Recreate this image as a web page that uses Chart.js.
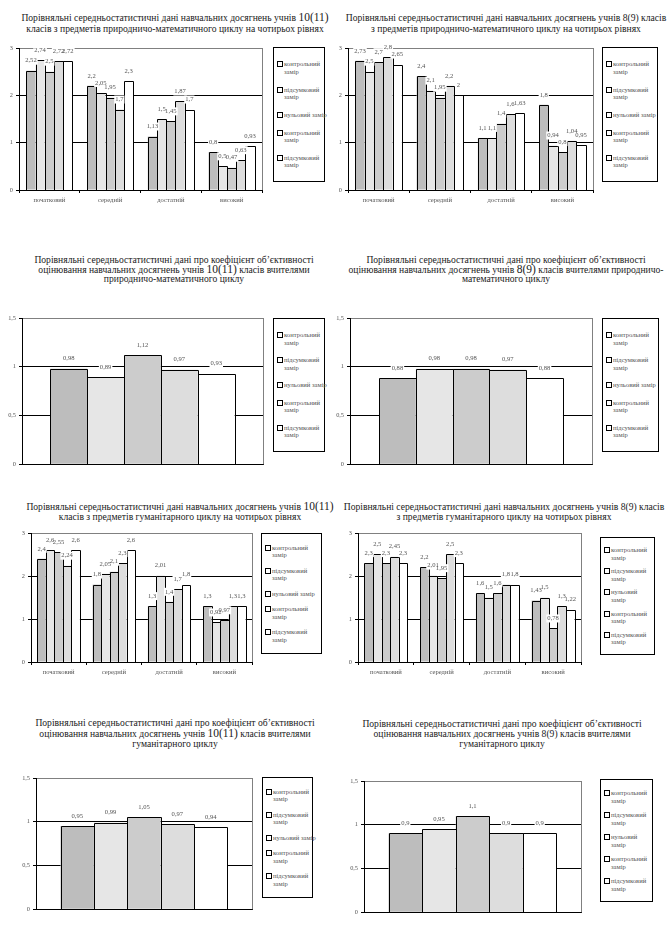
<!DOCTYPE html>
<html>
<head>
<meta charset="utf-8">
<script src="https://cdn.jsdelivr.net/npm/chart.js@4.4.1/dist/chart.umd.min.js"></script>
<style>
  body { margin: 0; background: #fff; }
  #page { position: relative; width: 669px; height: 952px; overflow: hidden; font-family: 'Liberation Serif', 'Times New Roman', serif; }
  .title { position: absolute; width: 400px; text-align: center; font-size: 9.6px; line-height: 10px; color: #1a1a1a; white-space: nowrap; }
  .title .big { font-size: 11.5px; }
  .legend { position: absolute; border: 1px solid #000; box-sizing: border-box; display: flex; flex-direction: column; justify-content: space-evenly; padding: 2px 0; }
  .legend .item { display: flex; align-items: flex-start; font-size: 6.6px; line-height: 7.5px; color: #555; padding-left: 3px; }
  .legend .nw { white-space: nowrap; }
  .legend .sw { width: 4px; height: 4px; border: 1px solid #000; background: #fff; margin-right: 1px; margin-top: 1px; flex: none; }
</style>
</head>
<body>
<div id="page"></div>
<script>
// categories and series names
const levels = ['початковий', 'середній', 'достатній', 'високий'];
const seriesNames = ['контрольний замір', 'підсумковий замір', 'нульовий замір', 'контрольний замір', 'підсумковий замір'];

// four-level charts, one row per series (same order as seriesNames)
const natSenior = [
  [2.52, 2.2, 1.13, 0.8],
  [2.74, 2.05, 1.5, 0.5],
  [2.5, 1.95, 1.45, 0.47],
  [2.72, 1.7, 1.87, 0.63],
  [2.72, 2.3, 1.7, 0.93]
];
const natJunior = [
  [2.73, 2.4, 1.1, 1.8],
  [2.5, 2.1, 1.1, 0.94],
  [2.7, 1.95, 1.4, 0.8],
  [2.8, 2.2, 1.6, 1.04],
  [2.65, 2.0, 1.63, 0.95]
];
const humSenior = [
  [2.4, 1.8, 1.3, 1.3],
  [2.6, 2.05, 2.01, 0.92],
  [2.55, 2.1, 1.4, 0.97],
  [2.24, 2.3, 1.7, 1.3],
  [2.6, 2.6, 1.8, 1.3]
];
const humJunior = [
  [2.3, 2.2, 1.6, 1.43],
  [2.5, 2.01, 1.5, 1.5],
  [2.3, 1.95, 1.6, 0.78],
  [2.45, 2.5, 1.8, 1.3],
  [2.3, 2.3, 1.8, 1.22]
];

// objectivity coefficients, one value per series
const coefNatSenior = [0.98, 0.89, 1.12, 0.97, 0.93];
const coefNatJunior = [0.88, 0.98, 0.98, 0.97, 0.88];
const coefHumSenior = [0.95, 0.99, 1.05, 0.97, 0.94];
const coefHumJunior = [0.9, 0.95, 1.1, 0.9, 0.9];

// y axis ticks
const levelTicks = [0, 1, 2, 3];
const coefTicks = [0, 0.5, 1, 1.5];

const barColors = ['#bdbdbd', '#e6e6e6', '#cccccc', '#dddddd', '#ffffff'];
const page = document.getElementById('page');
const fmt = v => String(v).replace('.', ',');

const charts = [
  { title: ['Порівняльні середньостатистичні дані навчальних досягнень учнів <span class="big">10(11)</span>', 'класів з предметів природничо-математичного циклу на чотирьох рівнях'],
    tx: 175, ty: 12, lh: 11, plot: [19, 48, 262, 190], legend: [273, 47, 52, 135], series: natSenior, ticks: levelTicks, cat: 0.76 },
  { title: ['Порівняльні середньостатистичні дані навчальних досягнень учнів 8(9) класів', 'з предметів природничо-математичного циклу на чотирьох рівнях'],
    tx: 506, ty: 12, lh: 11, plot: [348, 48, 593, 190], legend: [602, 47, 56, 135], series: natJunior, ticks: levelTicks, cat: 0.76 },
  { title: ['Порівняльні середньостатистичні дані про коефіцієнт об’єктивності', 'оцінювання навчальних досягнень учнів <span class="big">10(11)</span> класів вчителями', 'природничо-математичного циклу'],
    tx: 174, ty: 255, lh: 9.7, plot: [22, 318, 263, 467], legend: [273, 318, 52, 134], coef: coefNatSenior, ticks: coefTicks, cat: 0.765 },
  { title: ['Порівняльні середньостатистичні дані про коефіцієнт об’єктивності', 'оцінювання навчальних досягнень учнів <span class="big">8(9)</span> класів вчителями природничо-', 'математичного циклу'],
    tx: 506, ty: 255, lh: 9.7, plot: [350, 318, 592, 467], legend: [602, 318, 57, 134], coef: coefNatJunior, ticks: coefTicks, cat: 0.76 },
  { title: ['Порівняльні середньостатистичні дані навчальних досягнень учнів <span class="big">10(11)</span>', 'класів з предметів гуманітарного циклу на чотирьох рівнях'],
    tx: 180, ty: 501, lh: 10, plot: [31, 533, 252, 662], legend: [261, 533, 61, 121], series: humSenior, ticks: levelTicks, cat: 0.77 },
  { title: ['Порівняльні середньостатистичні дані навчальних досягнень учнів 8(9) класів', 'з предметів гуманітарного циклу на чотирьох рівнях'],
    tx: 504, ty: 502, lh: 10, plot: [358, 533, 581, 662], legend: [600, 537, 55, 118], series: humJunior, ticks: levelTicks, cat: 0.77, wrapAll: true },
  { title: ['Порівняльні середньостатистичні дані про коефіцієнт об’єктивності', 'оцінювання навчальних досягнень учнів <span class="big">10(11)</span> класів вчителями', 'гуманітарного циклу'],
    tx: 175, ty: 718, lh: 10, plot: [36, 778, 252, 912], legend: [262, 777, 51, 121], coef: coefHumSenior, ticks: coefTicks, cat: 0.773 },
  { title: ['Порівняльні середньостатистичні дані про коефіцієнт об’єктивності', 'оцінювання навчальних досягнень учнів 8(9) класів вчителями', 'гуманітарного циклу'],
    tx: 502, ty: 719, lh: 10, plot: [364, 781, 581, 915], legend: [600, 779, 53, 123], coef: coefHumJunior, ticks: coefTicks, cat: 0.774, wrapAll: true }
];

// outlines each bar once (no doubled edges) and writes the value labels
const barDecor = {
  id: 'barDecor',
  beforeDatasetsDraw(chart) {
    const { ctx, chartArea: a } = chart;
    ctx.save();
    ctx.strokeStyle = '#808080';
    ctx.lineWidth = 1;
    ctx.beginPath();
    ctx.moveTo(Math.round(a.right) + 0.5, a.top);
    ctx.lineTo(Math.round(a.right) + 0.5, a.bottom);
    ctx.stroke();
    ctx.restore();
  },
  afterDatasetsDraw(chart) {
    const ctx = chart.ctx;
    ctx.save();
    ctx.strokeStyle = '#000';
    ctx.lineWidth = 1;
    chart.data.datasets.forEach((ds, i) => {
      chart.getDatasetMeta(i).data.forEach(bar => {
        const l = Math.round(bar.x - bar.width / 2) + 0.5;
        const r = Math.round(bar.x + bar.width / 2) + 0.5;
        const t = Math.round(bar.y) + 0.5;
        const b = Math.round(bar.base);
        ctx.beginPath();
        ctx.moveTo(l, b);
        ctx.lineTo(l, t);
        ctx.lineTo(r, t);
        ctx.lineTo(r, b);
        ctx.stroke();
      });
    });
    ctx.font = '6.6px "Liberation Serif"';
    ctx.textAlign = 'center';
    ctx.textBaseline = 'middle';
    const labels = [];
    chart.data.datasets.forEach((ds, i) => {
      chart.getDatasetMeta(i).data.forEach((bar, j) => {
        const txt = fmt(ds.data[j]);
        labels.push({ txt, x: bar.x, y: bar.y - 10, w: ctx.measureText(txt).width });
      });
    });
    // backgrounds first so neighbouring labels never hide each other
    ctx.fillStyle = '#fff';
    labels.forEach(l => ctx.fillRect(l.x - l.w / 2 - 1, l.y - 4, l.w + 2, 8));
    ctx.fillStyle = '#555';
    labels.forEach(l => ctx.fillText(l.txt, l.x, l.y));
    ctx.restore();
  }
};

charts.forEach(cfg => {
  // title
  const t = document.createElement('div');
  t.className = 'title';
  t.style.left = (cfg.tx - 200) + 'px';
  t.style.top = cfg.ty + 'px';
  t.style.lineHeight = cfg.lh + 'px';
  t.innerHTML = cfg.title.join('<br>');
  page.appendChild(t);

  // canvas sized so that the plot area lands on cfg.plot
  const [px0, py0, px1, py1] = cfg.plot;
  const yw = 20, padTop = 8, padRight = 3;
  const isCoef = !!cfg.coef;
  const xh = isCoef ? 4 : 17;
  const w = px1 - px0 + yw + padRight;
  const h = py1 - py0 + padTop + xh;
  const canvas = document.createElement('canvas');
  canvas.width = w;
  canvas.height = h;
  canvas.style.cssText = `position:absolute;left:${px0 - yw}px;top:${py0 - padTop}px;width:${w}px;height:${h}px`;
  page.appendChild(canvas);

  const datasets = seriesNames.map((name, i) => ({
    label: name,
    data: isCoef ? [cfg.coef[i]] : cfg.series[i],
    backgroundColor: barColors[i],
    borderWidth: 0,
    categoryPercentage: cfg.cat,
    barPercentage: 1
  }));

  const yMax = cfg.ticks[cfg.ticks.length - 1];
  new Chart(canvas, {
    type: 'bar',
    data: { labels: isCoef ? [''] : levels, datasets },
    options: {
      responsive: false,
      animation: false,
      devicePixelRatio: 1,
      layout: { padding: { top: padTop, right: padRight, left: 0, bottom: 0 } },
      plugins: { legend: { display: false }, tooltip: { enabled: false } },
      scales: {
        x: {
          offset: true,
          afterFit: s => { s.height = xh; },
          grid: { display: true, offset: true, drawOnChartArea: false, drawTicks: !isCoef, tickLength: 3, color: '#000' },
          border: { display: true, color: '#000', width: 1 },
          ticks: { display: !isCoef, padding: 3, color: '#555', font: { family: 'Liberation Serif', size: 6.6 }, maxRotation: 0 }
        },
        y: {
          min: 0,
          max: yMax,
          afterFit: s => { s.width = yw; },
          afterBuildTicks: s => { s.ticks = cfg.ticks.map(v => ({ value: v })); },
          grid: {
            color: c => c.tick.value === yMax ? '#808080' : (c.tick.value === 0 ? 'rgba(0,0,0,0)' : '#000'),
            tickColor: '#000',
            tickLength: 3,
            lineWidth: 1
          },
          border: { display: true, color: '#000', width: 1 },
          ticks: { padding: 3, color: '#555', font: { family: 'Liberation Serif', size: 6.3 }, callback: v => fmt(v) }
        }
      }
    },
    plugins: [barDecor]
  });

  // legend box built from the dataset names
  const [lx, ly, lw, lh] = cfg.legend;
  const lg = document.createElement('div');
  lg.className = 'legend';
  lg.style.cssText = `left:${lx}px;top:${ly}px;width:${lw}px;height:${lh}px`;
  seriesNames.forEach(name => {
    const parts = name.split(' ');
    const oneLine = name.startsWith('нульовий') && !cfg.wrapAll;
    const text = oneLine ? `<span class="nw">${name}</span>` : '<span>' + parts[0] + '<br>' + parts.slice(1).join(' ') + '</span>';
    lg.insertAdjacentHTML('beforeend', `<div class="item"><span class="sw"></span>${text}</div>`);
  });
  page.appendChild(lg);
});
</script>
</body>
</html>
